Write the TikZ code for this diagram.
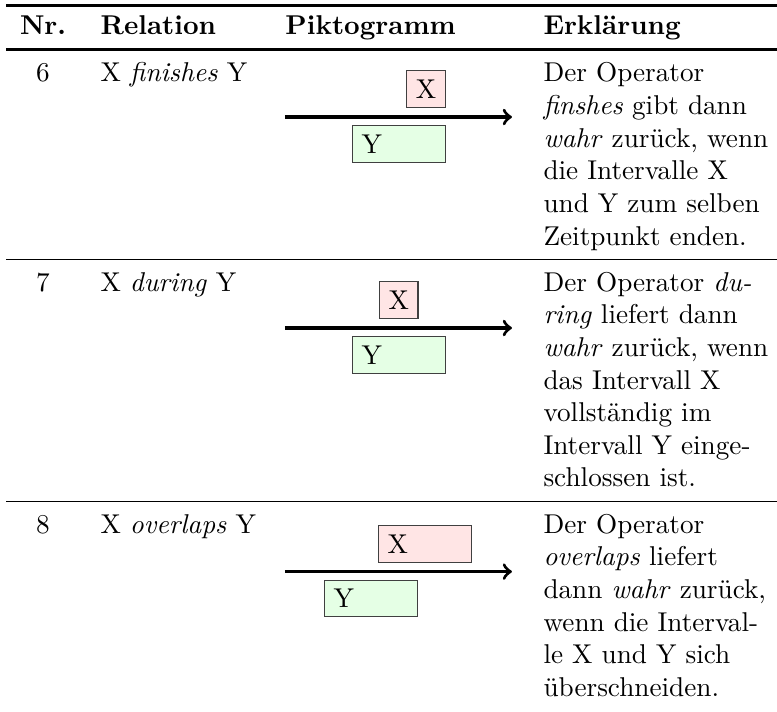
\documentclass[tikz,border=0pt]{standalone}
\usepackage{tikz}

\begin{document}
\begin{tikzpicture}[
    kopf/.style={anchor=base west, inner sep=0pt, font=\bfseries},
    zelle/.style={anchor=base west, inner sep=0pt},
    erkl/.style={anchor=base west, inner sep=0pt, text width=3.1cm, align=left},
    xbox/.style={draw=black!75, fill=red!10, inner sep=0.333em},
    ybox/.style={draw=black!75, fill=green!10, inner sep=0.333em},
    langbox/.style={text width=0.966cm},
    zeit/.style={->, very thick},
  ]
        \useasboundingbox (0,0) rectangle (10.04,-9.2);

        % 罫線
        \draw[line width=0.8pt] (0.08,-0.07) -- (10.04,-0.07);
        \draw[line width=0.8pt] (0.08,-0.64) -- (10.04,-0.64);
        \draw[line width=0.5pt] (0.08,-3.357) -- (10.04,-3.357);
        \draw[line width=0.5pt] (0.08,-6.483) -- (10.04,-6.483);

        % 見出し
        \node[kopf, anchor=base] (hnr) at (0.556,-0.45) {Nr.};
        \node[kopf] (hrel) at (1.292,-0.45) {Relation};
        \node[kopf] (hpik) at (3.682,-0.45) {Piktogramm};
        \node[kopf] (herk) at (7.016,-0.45) {Erklärung};

        % 6: finishes
        \node[zelle, anchor=base] (nr6) at (0.556,-1.057) {6};
        \node[zelle] (rel6) at (1.292,-1.057) {X \textit{finishes} Y};
        \coordinate (t6a) at (3.682,-1.512);
        \coordinate (t6b) at (6.615,-1.512);
        \draw[zeit] (t6a) -- (t6b);
        \node[xbox, anchor=south west] (x6) at (5.25,-1.396) {X};
        \node[ybox, langbox, anchor=north west] (y6) at (4.548,-1.615) {Y};
        \node[erkl] (erk6) at (7.016,-1.057) {Der Operator\\
          \textit{finshes} gibt dann\\
          \textit{wahr} zurück, wenn\\
          die Intervalle X\\
          und Y zum selben\\
          Zeitpunkt enden.};

        % 7: during
        \node[zelle, anchor=base] (nr7) at (0.556,-3.762) {7};
        \node[zelle] (rel7) at (1.292,-3.762) {X \textit{during} Y};
        \coordinate (t7a) at (3.682,-4.238);
        \coordinate (t7b) at (6.615,-4.238);
        \draw[zeit] (t7a) -- (t7b);
        \node[xbox, anchor=south west] (x7) at (4.897,-4.122) {X};
        \node[ybox, langbox, anchor=north west] (y7) at (4.548,-4.341) {Y};
        \node[erkl] (erk7) at (7.016,-3.762) {Der Operator \textit{du-}\\
          \textit{ring} liefert dann\\
          \textit{wahr} zurück, wenn\\
          das Intervall X\\
          vollständig im\\
          Intervall Y einge-\\
          schlossen ist.};

        % 8: overlaps
        \node[zelle, anchor=base] (nr8) at (0.556,-6.889) {8};
        \node[zelle] (rel8) at (1.292,-6.889) {X \textit{overlaps} Y};
        \coordinate (t8a) at (3.682,-7.386);
        \coordinate (t8b) at (6.615,-7.386);
        \draw[zeit] (t8a) -- (t8b);
        \node[xbox, langbox, anchor=south west] (x8) at (4.884,-7.270) {X};
        \node[ybox, langbox, anchor=north west] (y8) at (4.186,-7.489) {Y};
        \node[erkl] (erk8) at (7.016,-6.889) {Der Operator\\
          \textit{overlaps} liefert\\
          dann \textit{wahr} zurück,\\
          wenn die Interval-\\
          le X und Y sich\\
          überschneiden.};
\end{tikzpicture}
\end{document}
